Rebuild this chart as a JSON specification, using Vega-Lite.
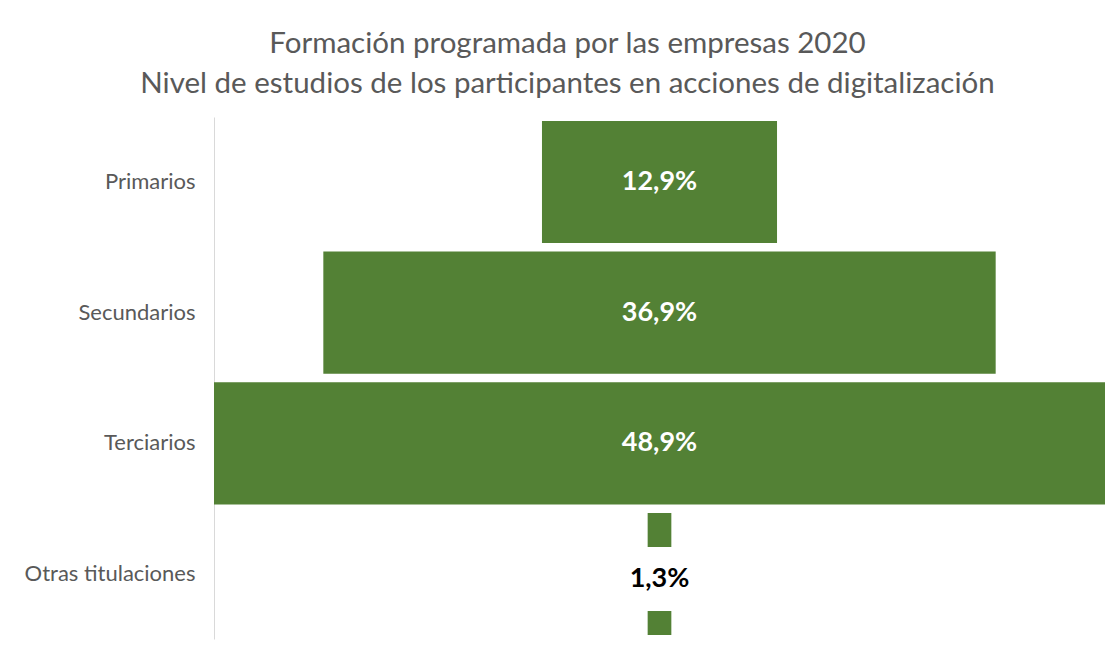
{
  "$schema": "https://vega.github.io/schema/vega-lite/v6.json",
  "autosize": "none",
  "width": 891,
  "height": 522,
  "padding": {"left": 214, "top": 117, "right": 6, "bottom": 11},
  "background": "white",
  "title": {
    "text": ["Formación programada por las empresas 2020", "Nivel de estudios de los participantes en acciones de digitalización"],
    "font": "Lato",
    "fontSize": 29.5,
    "fontWeight": "normal",
    "color": "#595959",
    "anchor": "middle",
    "dx": -92,
    "offset": 18,
    "lineHeight": 40
  },
  "data": {
    "values": [
      {"nivel": "Primarios", "pct": 12.9, "label": "12,9%"},
      {"nivel": "Secundarios", "pct": 36.9, "label": "36,9%"},
      {"nivel": "Terciarios", "pct": 48.9, "label": "48,9%"},
      {"nivel": "Otras titulaciones", "pct": 1.3, "label": "1,3%"}
    ]
  },
  "encoding": {
    "y": {
      "field": "nivel",
      "type": "nominal",
      "sort": ["Primarios", "Secundarios", "Terciarios", "Otras titulaciones"],
      "scale": {"paddingInner": 0.065, "paddingOuter": 0.03},
      "axis": {
        "title": null,
        "ticks": false,
        "labelFont": "Lato",
        "labelFontSize": 22,
        "labelColor": "#595959",
        "labelPadding": 19,
        "domainColor": "#d9d9d9",
        "domainWidth": 1
      }
    }
  },
  "layer": [
    {
      "mark": {"type": "bar", "color": "#538135"},
      "encoding": {
        "x": {
          "field": "pct",
          "type": "quantitative",
          "stack": "center",
          "scale": {"domain": [0, 48.9], "nice": false, "zero": false},
          "axis": null
        }
      }
    },
    {
      "transform": [{"filter": "datum.nivel === 'Otras titulaciones'"}],
      "mark": {"type": "point", "shape": "square", "size": 4096, "filled": true, "color": "white", "opacity": 1, "yOffset": 5},
      "encoding": {
        "x": {"datum": 24.45, "type": "quantitative"}
      }
    },
    {
      "transform": [{"filter": "datum.nivel !== 'Otras titulaciones'"}],
      "mark": {"type": "text", "font": "Lato", "fontSize": 27, "fontWeight": "bold", "align": "center", "baseline": "middle", "color": "#ffffff"},
      "encoding": {
        "x": {"datum": 24.45, "type": "quantitative"},
        "text": {"field": "label"}
      }
    },
    {
      "transform": [{"filter": "datum.nivel === 'Otras titulaciones'"}],
      "mark": {"type": "text", "font": "Lato", "fontSize": 27, "fontWeight": "bold", "align": "center", "baseline": "middle", "color": "#000000", "dy": 5},
      "encoding": {
        "x": {"datum": 24.45, "type": "quantitative"},
        "text": {"field": "label"}
      }
    }
  ],
  "config": {"view": {"stroke": null}}
}
